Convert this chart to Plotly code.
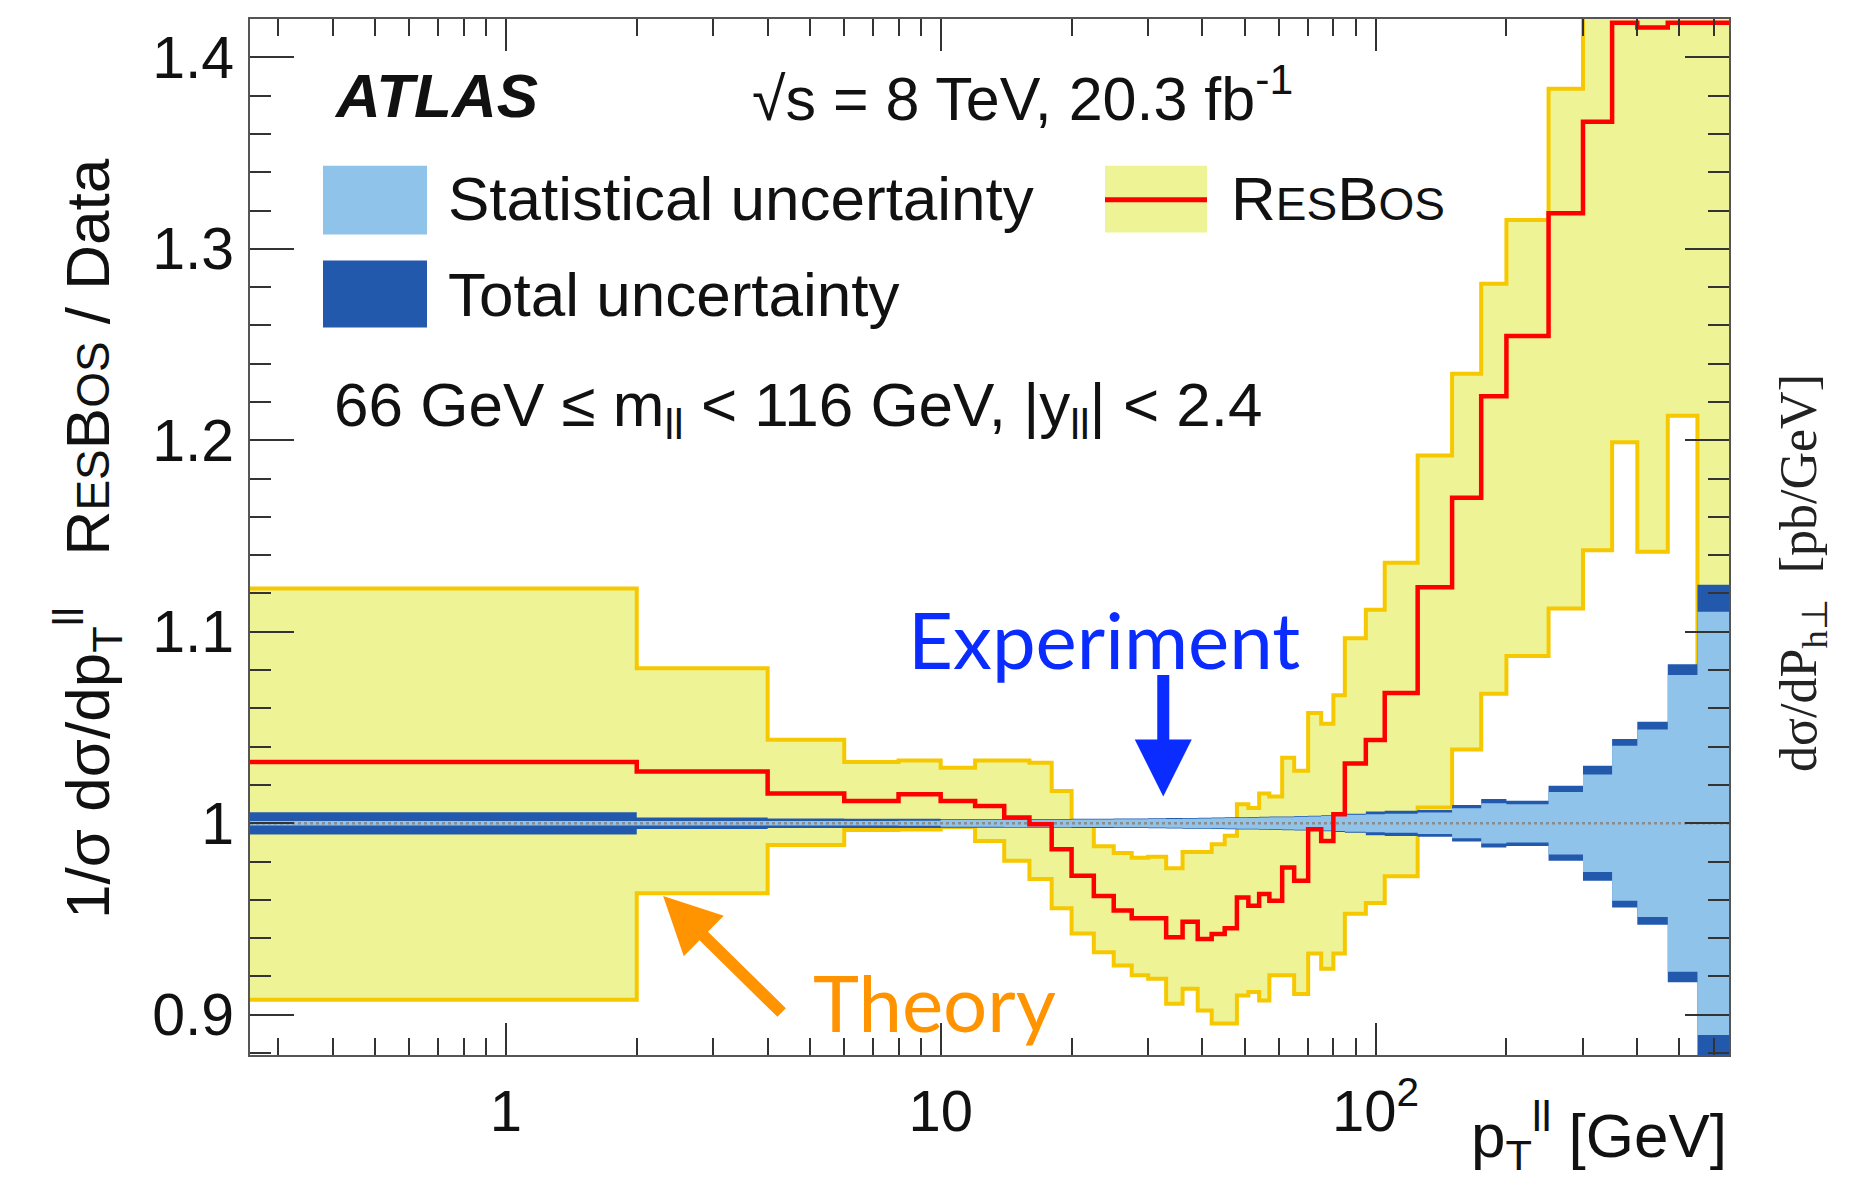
import math
import plotly.graph_objects as go

# ---------------- data ----------------
pt_edges = [0, 2, 4, 6, 8, 10, 12, 14, 16, 18, 20, 22.5, 25, 27.5, 30, 33, 36, 39, 42, 45,
            48, 51, 54, 57, 61, 65, 70, 75, 80, 85, 95, 105, 125, 150, 175, 200, 250, 300,
            350, 400, 470, 550, 650]

resbos_ratio = [1.032, 1.027, 1.0155, 1.0116, 1.0151, 1.0116, 1.009, 1.003, 0.9995, 0.9865,
                0.9726, 0.962, 0.9544, 0.9504, 0.9504, 0.9405, 0.9486, 0.9396, 0.9422, 0.9452,
                0.9613, 0.957, 0.9631, 0.9596, 0.9769, 0.970, 0.9969, 0.9908, 1.0047, 1.0312,
                1.0435, 1.068, 1.1233, 1.170, 1.223, 1.2544, 1.3186, 1.3663, 1.418, 1.4155,
                1.418, 1.418]

theory_up = [1.1226, 1.0809, 1.0436, 1.032, 1.0328, 1.029, 1.0328, 1.0328, 1.0316, 1.0168,
             0.999, 0.988, 0.9845, 0.982, 0.9825, 0.9765, 0.985, 0.985, 0.989, 0.9935,
             1.010, 1.008, 1.0155, 1.014, 1.0342, 1.0275, 1.0576, 1.052, 1.0668, 1.0966,
             1.1115, 1.136, 1.192, 1.2348, 1.2818, 1.3151, 1.3836, 1.46, 1.50, 1.48,
             1.52, 1.53]

theory_down = [0.9078, 0.9635, 0.9887, 0.9965, 0.9968, 0.998, 0.9908, 0.9804, 0.9709, 0.9556,
               0.9425, 0.9327, 0.9258, 0.9206, 0.9188, 0.9058, 0.9136, 0.9023, 0.8954, 0.8954,
               0.9101, 0.9119, 0.9075, 0.9206, 0.9206, 0.9108, 0.932, 0.924, 0.932, 0.9527,
               0.9584, 0.9724, 1.0083, 1.0385, 1.0677, 1.0874, 1.1121, 1.1426, 1.199, 1.1418,
               1.2128, 1.0]

total_unc = [0.0058, 0.0030, 0.0025, 0.0024, 0.0024, 0.0023, 0.0023, 0.0023, 0.0023, 0.0023,
             0.0024, 0.0024, 0.0025, 0.0025, 0.0026, 0.0027, 0.0028, 0.0029, 0.0030, 0.0031,
             0.0032, 0.0033, 0.0034, 0.0035, 0.0036, 0.0038, 0.0040, 0.0042, 0.0045, 0.0050,
             0.0062, 0.0066, 0.0070, 0.0095, 0.0127, 0.0118, 0.0196, 0.0300, 0.0440, 0.0530,
             0.0830, 0.1245]

stat_unc = [0.0012, 0.0012, 0.0012, 0.0012, 0.0013, 0.0018, 0.0018, 0.0019, 0.0019, 0.0019,
            0.0020, 0.0020, 0.0021, 0.0021, 0.0022, 0.0023, 0.0024, 0.0025, 0.0026, 0.0027,
            0.0028, 0.0029, 0.0030, 0.0031, 0.0032, 0.0034, 0.0036, 0.0038, 0.0040, 0.0044,
            0.0047, 0.0050, 0.0056, 0.0078, 0.0105, 0.0100, 0.0163, 0.0255, 0.0405, 0.0490,
            0.0775, 0.1105]

x_tick_vals = [1, 10, 100]
x_tick_text = ["1", "10", "10<sup>2</sup>"]
y_tick_vals = [0.9, 1.0, 1.1, 1.2, 1.3, 1.4]
y_tick_text = ["0.9", "1", "1.1", "1.2", "1.3", "1.4"]

X_RANGE = (0.258, 650.0)
Y_RANGE = (0.879, 1.42)

# ---------------- styles ----------------
YEL_FILL = "#eef496"
YEL_LINE = "#f6c800"
RED = "#ff0000"
DARK_BLUE = "#2259ad"
LIGHT_BLUE = "#8fc3ea"
EXP_BLUE = "#0a2cff"
THEO_ORANGE = "#ff9400"
SANS = "Liberation Sans"

# page body margin offset (browser default) and figure size
OFF = 8
W, H = 1874 - 2 * OFF, 1200 - 2 * OFF
# plot area in screen pixels
L_S, R_S, T_S, B_S = 250, 1729, 17, 1055
L, R, T, B = L_S - OFF, R_S - OFF, T_S - OFF, B_S - OFF


def px(xs):
    return (xs - L_S) / (R_S - L_S)


def py(ys):
    return (B_S - ys) / (B_S - T_S)


def step_xy(vals):
    xs = [e if e > 0 else X_RANGE[0] * 0.5 for e in pt_edges]
    ys = list(vals) + [vals[-1]]
    return xs, ys


fig = go.Figure()


def add_fill(lo, hi, color):
    xs, ylo = step_xy(lo)
    _, yhi = step_xy(hi)
    fig.add_trace(go.Scatter(x=xs, y=ylo, mode="lines",
                             line=dict(shape="hv", width=0, color="rgba(0,0,0,0)"),
                             hoverinfo="skip", showlegend=False))
    fig.add_trace(go.Scatter(x=xs, y=yhi, mode="lines", fill="tonexty", fillcolor=color,
                             line=dict(shape="hv", width=0, color="rgba(0,0,0,0)"),
                             hoverinfo="skip", showlegend=False))


def add_step_line(vals, color, width):
    xs, ys = step_xy(vals)
    fig.add_trace(go.Scatter(x=xs, y=ys, mode="lines",
                             line=dict(shape="hv", width=width, color=color),
                             hoverinfo="skip", showlegend=False))


# theory band
add_fill(theory_down, theory_up, YEL_FILL)
add_step_line(theory_down, YEL_LINE, 4)
add_step_line(theory_up, YEL_LINE, 4)

# experimental uncertainties
tot_lo = [1 - u for u in total_unc]
tot_hi = [1 + u for u in total_unc]
st_lo = [1 - u for u in stat_unc]
st_hi = [1 + u for u in stat_unc]
add_fill(tot_lo, tot_hi, DARK_BLUE)
add_fill(st_lo, st_hi, LIGHT_BLUE)

# dotted unity line
fig.add_trace(go.Scatter(x=[X_RANGE[0], X_RANGE[1]], y=[1, 1], mode="lines",
                         line=dict(color="#8c8c8c", width=2.5, dash="dot"),
                         hoverinfo="skip", showlegend=False))

# ResBos central
add_step_line(resbos_ratio, RED, 4.5)

# ---------------- axes ----------------
minor_x = [m * 10 ** d for d in (-1, 0, 1, 2) for m in range(2, 10)
           if X_RANGE[0] < m * 10 ** d < X_RANGE[1]]
minor_y = [round(0.88 + 0.02 * i, 2) for i in range(28)]
minor_y = [v for v in minor_y if Y_RANGE[0] <= v <= Y_RANGE[1]
           and all(abs(v - t) > 1e-6 for t in y_tick_vals)]

fig.update_xaxes(type="log", range=[math.log10(X_RANGE[0]), math.log10(X_RANGE[1])],
                 tickmode="array", tickvals=x_tick_vals, ticktext=x_tick_text,
                 ticks="inside", ticklen=32, tickwidth=2, tickcolor="#333",
                 showline=True, linecolor="#555", linewidth=2, mirror="allticks",
                 showgrid=False, zeroline=False,
                 minor=dict(tickvals=minor_x, ticks="inside", ticklen=17, tickwidth=2,
                            tickcolor="#333", showgrid=False),
                 tickfont=dict(family=SANS, size=58, color="#111"),
                 ticklabelstandoff=4)

fig.update_yaxes(range=list(Y_RANGE), tickmode="array", tickvals=y_tick_vals,
                 ticktext=y_tick_text,
                 ticks="inside", ticklen=44, tickwidth=2, tickcolor="#333",
                 showline=True, linecolor="#555", linewidth=2, mirror="allticks",
                 showgrid=False, zeroline=False,
                 minor=dict(tickvals=minor_y, ticks="inside", ticklen=21, tickwidth=2,
                            tickcolor="#333", showgrid=False),
                 tickfont=dict(family=SANS, size=59, color="#111"),
                 ticklabelstandoff=2)

# ---------------- legend (drawn) ----------------
shapes = [
    dict(type="rect", xref="paper", yref="paper", x0=px(323), x1=px(427), y0=py(233), y1=py(164),
         fillcolor=LIGHT_BLUE, line=dict(width=0)),
    dict(type="rect", xref="paper", yref="paper", x0=px(323), x1=px(427), y0=py(326), y1=py(259),
         fillcolor=DARK_BLUE, line=dict(width=0)),
    dict(type="rect", xref="paper", yref="paper", x0=px(1105), x1=px(1207), y0=py(231), y1=py(164),
         fillcolor=YEL_FILL, line=dict(width=0)),
    dict(type="line", xref="paper", yref="paper", x0=px(1105), x1=px(1207), y0=py(198), y1=py(198),
         line=dict(color=RED, width=5)),
]

small = '<span style="font-size:46px">'
resbos_txt = "R" + small + "ES</span>B" + small + "OS</span>"

annotations = [
    dict(text="<b><i>ATLAS</i></b>", x=px(332), y=py(94), xanchor="left", yanchor="middle",
         font=dict(family=SANS, size=62, color="#111")),
    dict(text="√s = 8 TeV, 20.3 fb<sup>-1</sup>", x=px(750), y=py(92), xanchor="left",
         yanchor="middle", font=dict(family=SANS, size=61, color="#111")),
    dict(text="Statistical uncertainty", x=px(446), y=py(197), xanchor="left", yanchor="middle",
         font=dict(family=SANS, size=62, color="#111")),
    dict(text="Total uncertainty", x=px(446), y=py(293), xanchor="left", yanchor="middle",
         font=dict(family=SANS, size=62, color="#111")),
    dict(text=resbos_txt, x=px(1229), y=py(197), xanchor="left", yanchor="middle",
         font=dict(family=SANS, size=62, color="#111")),
    dict(text="66 GeV ≤ m<sub>ll</sub> &lt; 116 GeV, |y<sub>ll</sub>| &lt; 2.4", x=px(332),
         y=py(408), xanchor="left", yanchor="middle",
         font=dict(family=SANS, size=62, color="#111")),
    dict(text="Experiment", x=px(1104), y=py(638), xanchor="center", yanchor="middle",
         font=dict(family="Lato", size=78, color=EXP_BLUE)),
    dict(text="Theory", x=px(934), y=py(1002), xanchor="center", yanchor="middle",
         font=dict(family="Lato", size=78, color=THEO_ORANGE)),
    # arrows
    dict(text="", x=math.log10(32.5), y=1.014, xref="x", yref="y", ax=0, ay=-123,
         showarrow=True, arrowhead=2, arrowsize=0.95, arrowwidth=12, arrowcolor=EXP_BLUE),
    dict(text="", x=math.log10(2.30), y=0.962, xref="x", yref="y", ax=120, ay=118,
         showarrow=True, arrowhead=2, arrowsize=0.95, arrowwidth=12, arrowcolor=THEO_ORANGE),
    # axis titles
    dict(text="1/σ dσ/dp<sub>T</sub><sup>ll</sup>\u00a0\u00a0\u00a0" + resbos_txt + " / Data",
         x=px(88), y=py(538), textangle=-90, xanchor="center", yanchor="middle",
         font=dict(family=SANS, size=62, color="#111")),
    dict(text="p<sub>T</sub><sup>ll</sup> [GeV]", x=1.0, y=py(1136), xanchor="right",
         yanchor="middle", font=dict(family=SANS, size=62, color="#111")),
    dict(text="dσ/dP<sub>h⊥</sub>\u00a0\u00a0[pb/GeV]", x=px(1803), y=py(572), textangle=-90,
         xanchor="center", yanchor="middle",
         font=dict(family="Liberation Serif", size=52, color="#222")),
]
for a in annotations:
    a.setdefault("xref", "paper")
    a.setdefault("yref", "paper")
    a.setdefault("showarrow", False)

fig.update_layout(width=W, height=H, margin=dict(l=L, r=W - R, t=T, b=H - B),
                  paper_bgcolor="white", plot_bgcolor="white",
                  shapes=shapes, annotations=annotations, showlegend=False,
                  font=dict(family=SANS))

fig.write_html("out.html")
